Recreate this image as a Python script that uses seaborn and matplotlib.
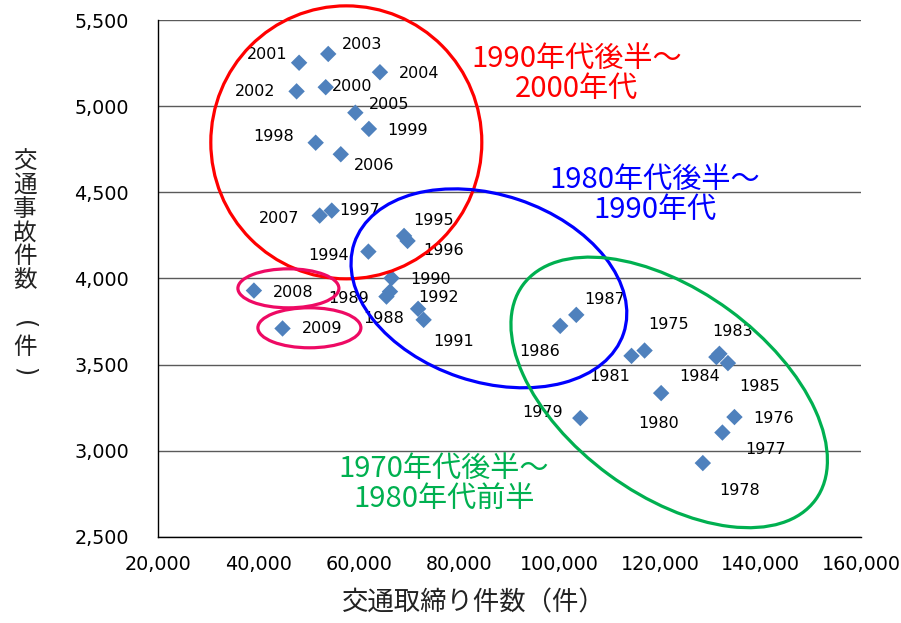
import numpy as np
import pandas as pd
import matplotlib
matplotlib.use("Agg")
import matplotlib.pyplot as plt
from matplotlib.patches import Ellipse
from matplotlib.transforms import ScaledTranslation
from matplotlib.ticker import FuncFormatter, MultipleLocator
import seaborn as sns

# ── data ────────────────────────────────────────────────
years = [1975, 1976, 1977, 1978, 1979, 1980, 1981, 1983, 1984, 1985,
         1986, 1987, 1988, 1989, 1990, 1991, 1992, 1994, 1995, 1996,
         1997, 1998, 1999, 2000, 2001, 2002, 2003, 2004, 2005, 2006,
         2007, 2008, 2009]
enforcement = [116900, 134800, 132400, 128500, 104100, 120200, 114300, 131800, 131200, 133500,
               100100, 103300, 65500, 66200, 66500, 72900, 71800, 61900, 69000, 69700,
               54600, 51400, 62000, 53400, 48100, 47600, 53900, 64200, 59300, 56400,
               52200, 39100, 44800]
accidents = [3582, 3196, 3106, 2929, 3190, 3335, 3551, 3563, 3544, 3509,
             3725, 3789, 3895, 3924, 4002, 3760, 3824, 4156, 4247, 4218,
             4394, 4788, 4868, 5110, 5252, 5086, 5303, 5197, 4962, 4721,
             4365, 3930, 3710]

group_labels = ["1990年代後半～\n2000年代", "1980年代後半～\n1990年代", "1970年代後半～\n1980年代前半"]

df = pd.DataFrame({"year": years, "x": enforcement, "y": accidents})

# ── layout / style (not data) ───────────────────────────
W, H, DPI = 901, 623, 100
MARKER = "#4F81BD"
JP = ["Noto Sans CJK JP", "DejaVu Sans"]

# year label offsets in pixels (dx right, dy down)
label_off = {
    1975: (24, -26), 1976: (39, 1), 1977: (43, 17), 1978: (37, 27), 1979: (-38, -6),
    1980: (-3, 30), 1981: (-22, 21), 1983: (13, -22), 1984: (-17, 19), 1985: (32, 23),
    1986: (-21, 26), 1987: (28, -15), 1988: (-3, 22), 1989: (-41, 7), 1990: (39, 1),
    1991: (30, 22), 1992: (20, -11), 1994: (-40, 4), 1995: (30, -15), 1996: (36, 10),
    1997: (28, 0), 1998: (-42, -6), 1999: (39, 2), 2000: (26, -1), 2001: (-32, -8),
    2002: (-41, 0), 2003: (34, -9), 2004: (39, 1), 2005: (34, -8), 2006: (33, 11),
    2007: (-41, 3), 2008: (39, 2), 2009: (40, 0),
}

sns.set_style("white")
plt.rcParams.update({
    "font.family": ["DejaVu Sans", "Noto Sans CJK JP"],
    "axes.edgecolor": "black",
    "axes.linewidth": 1.0,
})

fig = plt.figure(figsize=(W / DPI, H / DPI), dpi=DPI)
ax = fig.add_axes([158 / W, 1 - 537 / H, (861 - 158) / W, (537 - 20) / H])

sns.scatterplot(data=df, x="x", y="y", marker="D", s=70, color=MARKER,
                edgecolor="none", linewidth=0, ax=ax, zorder=3, clip_on=False)

ax.set_xlim(20000, 160000)
ax.set_ylim(2500, 5500)
ax.xaxis.set_major_locator(MultipleLocator(20000))
ax.yaxis.set_major_locator(MultipleLocator(500))
fmt = FuncFormatter(lambda v, p: f"{v:,.0f}")
ax.xaxis.set_major_formatter(fmt)
ax.yaxis.set_major_formatter(fmt)
ax.tick_params(axis="x", direction="in", length=4, width=1, pad=13, labelsize=13.8, colors="black")
ax.tick_params(axis="y", direction="out", length=5, width=1, pad=16, labelsize=13.8, colors="black")
ax.set_xlabel("")
ax.set_ylabel("")
ax.grid(axis="y", color="#5a5a5a", linewidth=1.0)
ax.grid(axis="x", visible=False)
ax.set_axisbelow(True)
for side in ["top", "right"]:
    ax.spines[side].set_visible(False)

# year labels
for yr, xv, yv in zip(years, enforcement, accidents):
    dx, dy = label_off[yr]
    ax.annotate(str(yr), (xv, yv), xytext=(dx, -dy), textcoords="offset pixels",
                ha="center", va="center", fontsize=11.5, color="black", zorder=4)

# group ellipses: centre in data units, size in pixels
def ring(cx, cy, w, h, angle, color, lw=2.3):
    tr = fig.dpi_scale_trans + ScaledTranslation(cx, cy, ax.transData)
    e = Ellipse((0, 0), w / DPI, h / DPI, angle=angle, transform=tr,
                fill=False, edgecolor=color, linewidth=lw, clip_on=False, zorder=5)
    ax.add_artist(e)

ring(57500, 4790, 271, 273, 0, "#FF0000")
ring(85900, 3943, 284, 187, -18.5, "#0000FF")
ring(121800, 3339, 363, 204, -36.3, "#00B050")
ring(45970, 3943, 101, 39, 0, "#EE0A64")
ring(50150, 3714, 103, 40, 0, "#EE0A64")

# group captions
cap = dict(fontsize=21, family=JP, ha="center", va="center", linespacing=1.0, zorder=6)
ax.text(103400, 5187, group_labels[0], color="#FF0000", **cap)
ax.text(118900, 4485, group_labels[1], color="#0000FF", **cap)
ax.text(76900, 2809, group_labels[2], color="#00B050", **cap)

# axis titles
fig.text(474 / W, 1 - 603 / H, "交通取締り件数（件）", family=JP, fontsize=19,
         ha="center", va="center", color="#222222")
ychars = ["交", "通", "事", "故", "件", "数", "(", "件", ")"]
ypos = [161, 185, 209, 233, 257, 281, 325, 348, 372]
for ch, yp in zip(ychars, ypos):
    if ch in "()":
        fig.text(25 / W, 1 - yp / H, ch, family="DejaVu Sans", fontsize=17, rotation=-90,
                 ha="center", va="center", color="#222222")
    else:
        fig.text(25 / W, 1 - yp / H, ch, family=JP, fontsize=17,
                 ha="center", va="center", color="#222222")

fig.savefig("out.png", dpi=DPI)
